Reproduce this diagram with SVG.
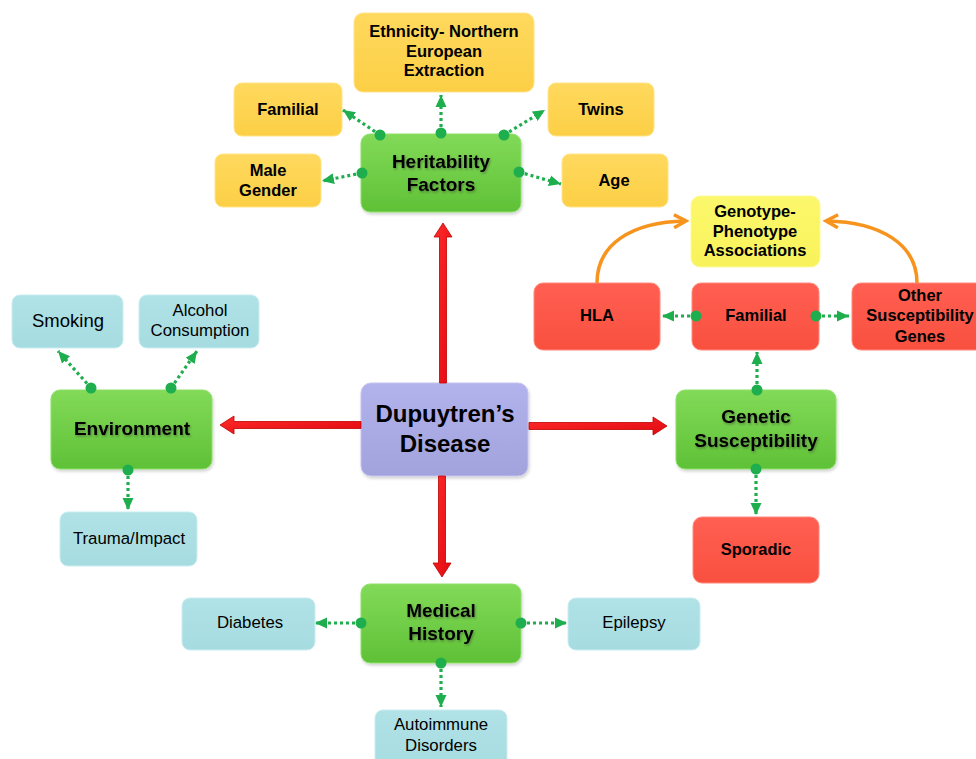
<svg xmlns="http://www.w3.org/2000/svg" width="976" height="759" viewBox="0 0 976 759">
<defs>
<style>
text{font-family:"Liberation Sans",Arial,sans-serif;text-anchor:middle;fill:#000}
.b{font-weight:bold}
.f15{font-size:16.5px}
.f16{font-size:16.8px}
.f18{font-size:18.5px}
.f17{font-size:19px}
.f22{font-size:24px}
.green{fill:url(#gG);stroke:#8de06a;stroke-width:1}
.yel{fill:url(#gY);stroke:#ffe488;stroke-width:1}
.lyel{fill:url(#gLY);stroke:#fbfa9a;stroke-width:1}
.red{fill:url(#gR);stroke:#ff8a7c;stroke-width:1}
.blue{fill:url(#gB);stroke:#c9eef0;stroke-width:1}
.lav{fill:url(#gL);stroke:#c4c4ee;stroke-width:1}
.dot{fill:#1eae4e}
.dl{stroke:#1eae4e;stroke-width:3.2;stroke-dasharray:3 3;fill:none;marker-end:url(#ga)}
.ra{fill:url(#gRA);stroke:#c00000;stroke-width:0.8}
.orng{stroke:#f7941d;stroke-width:3.5;fill:none;marker-end:url(#oa)}
.sh{filter:url(#ts)}
</style>
<linearGradient id="gG" x1="0" y1="0" x2="0" y2="1"><stop offset="0" stop-color="#82da58"/><stop offset="1" stop-color="#5fc136"/></linearGradient>
<linearGradient id="gY" x1="0" y1="0" x2="0" y2="1"><stop offset="0" stop-color="#ffd95e"/><stop offset="1" stop-color="#fccf45"/></linearGradient>
<linearGradient id="gLY" x1="0" y1="0" x2="0" y2="1"><stop offset="0" stop-color="#fcf86c"/><stop offset="1" stop-color="#f8f25a"/></linearGradient>
<linearGradient id="gR" x1="0" y1="0" x2="0" y2="1"><stop offset="0" stop-color="#ff5f52"/><stop offset="1" stop-color="#f9503f"/></linearGradient>
<linearGradient id="gB" x1="0" y1="0" x2="0" y2="1"><stop offset="0" stop-color="#b0e2e6"/><stop offset="1" stop-color="#a6dce1"/></linearGradient>
<linearGradient id="gL" x1="0" y1="0" x2="0" y2="1"><stop offset="0" stop-color="#b2b2ec"/><stop offset="1" stop-color="#a2a2dc"/></linearGradient>
<linearGradient id="gRA" x1="0" y1="0" x2="1" y2="1"><stop offset="0" stop-color="#ff2a2a"/><stop offset="1" stop-color="#e00a10"/></linearGradient>
<filter id="ts" x="-10%" y="-20%" width="120%" height="150%"><feDropShadow dx="1" dy="1.5" stdDeviation="0.8" flood-color="#333" flood-opacity="0.45"/></filter>
<filter id="bs" x="-10%" y="-10%" width="125%" height="130%"><feDropShadow dx="1" dy="2" stdDeviation="1.5" flood-color="#000" flood-opacity="0.18"/></filter>
<marker id="ga" markerUnits="userSpaceOnUse" markerWidth="14" markerHeight="14" viewBox="0 0 14 14" refX="12" refY="7" orient="auto"><path d="M0,1.5 L12,7 L0,12.5 Z" fill="#1eae4e"/></marker>
<marker id="oa" markerUnits="userSpaceOnUse" markerWidth="16" markerHeight="16" viewBox="0 0 16 16" refX="13" refY="8" orient="auto"><path d="M1,1.5 L13,8 L1,14.5" fill="none" stroke="#f7941d" stroke-width="3.5" stroke-linejoin="miter"/></marker>
</defs>
<rect width="976" height="759" fill="#fff"/>

<g id="dupuytren">
<rect class="lav" filter="url(#bs)" x="361" y="383" width="167" height="93" rx="10"/>
<text class="b f22" x="445" y="422">Dupuytren’s</text>
<text class="b f22" x="445" y="452">Disease</text>
</g>

<g id="heritability">
<rect class="green" filter="url(#bs)" x="361" y="134" width="160" height="78" rx="9"/>
<text class="b f17 sh" x="441" y="168">Heritability</text>
<text class="b f17 sh" x="441" y="191">Factors</text>
</g>
<g id="ethnicity">
<rect class="yel" x="354" y="13" width="180" height="79" rx="9"/>
<text class="b f15" x="444" y="37">Ethnicity- Northern</text>
<text class="b f15" x="444" y="57">European</text>
<text class="b f15" x="444" y="76">Extraction</text>
</g>
<g id="familial-h">
<rect class="yel" x="234" y="83" width="108" height="53" rx="8"/>
<text class="b f15" x="288" y="115">Familial</text>
</g>
<g id="twins">
<rect class="yel" x="548" y="83" width="106" height="53" rx="8"/>
<text class="b f15" x="601" y="115">Twins</text>
</g>
<g id="male-gender">
<rect class="yel" x="215" y="154" width="106" height="53" rx="8"/>
<text class="b f15" x="268" y="176">Male</text>
<text class="b f15" x="268" y="196">Gender</text>
</g>
<g id="age">
<rect class="yel" x="562" y="154" width="106" height="53" rx="8"/>
<text class="b f15" x="614" y="186">Age</text>
</g>

<g id="environment">
<rect class="green" filter="url(#bs)" x="51" y="390" width="161" height="79" rx="9"/>
<text class="b f17 sh" x="132" y="435">Environment</text>
</g>
<g id="smoking">
<rect class="blue" x="12" y="295" width="111" height="53" rx="8"/>
<text class="f18" x="68" y="327">Smoking</text>
</g>
<g id="alcohol">
<rect class="blue" x="139" y="295" width="120" height="53" rx="8"/>
<text class="f16" x="200" y="316">Alcohol</text>
<text class="f16" x="200" y="336">Consumption</text>
</g>
<g id="trauma">
<rect class="blue" x="60" y="512" width="137" height="54" rx="8"/>
<text class="f16" x="129" y="544">Trauma/Impact</text>
</g>

<g id="genetic">
<rect class="green" filter="url(#bs)" x="676" y="390" width="160" height="79" rx="9"/>
<text class="b f17 sh" x="756" y="423">Genetic</text>
<text class="b f17 sh" x="756" y="447">Susceptibility</text>
</g>
<g id="genotype">
<rect class="lyel" x="691" y="196" width="129" height="71" rx="9"/>
<text class="b f15" x="755" y="217">Genotype-</text>
<text class="b f15" x="755" y="237">Phenotype</text>
<text class="b f15" x="755" y="256">Associations</text>
</g>
<g id="hla">
<rect class="red" x="534" y="283" width="126" height="67" rx="9"/>
<text class="b f15" x="597" y="321">HLA</text>
</g>
<g id="familial-g">
<rect class="red" x="692" y="283" width="127" height="67" rx="9"/>
<text class="b f15" x="756" y="321">Familial</text>
</g>
<g id="other-genes">
<rect class="red" x="852" y="283" width="134" height="67" rx="9"/>
<text class="b f15" x="920" y="301">Other</text>
<text class="b f15" x="920" y="321">Susceptibility</text>
<text class="b f15" x="920" y="342">Genes</text>
</g>
<g id="sporadic">
<rect class="red" x="693" y="517" width="126" height="66" rx="9"/>
<text class="b f15" x="756" y="555">Sporadic</text>
</g>

<g id="medical">
<rect class="green" filter="url(#bs)" x="361" y="584" width="160" height="79" rx="9"/>
<text class="b f17 sh" x="441" y="617">Medical</text>
<text class="b f17 sh" x="441" y="640">History</text>
</g>
<g id="diabetes">
<rect class="blue" x="182" y="598" width="133" height="52" rx="8"/>
<text class="f16" x="250" y="628">Diabetes</text>
</g>
<g id="epilepsy">
<rect class="blue" x="568" y="598" width="132" height="52" rx="8"/>
<text class="f16" x="634" y="628">Epilepsy</text>
</g>
<g id="autoimmune">
<rect class="blue" x="375" y="710" width="132" height="60" rx="8"/>
<text class="f16" x="441" y="730">Autoimmune</text>
<text class="f16" x="441" y="751">Disorders</text>
</g>

<g id="connectors">
<path class="ra" d="M443,223 L452,237 L446.5,237 L446.5,383 L439.5,383 L439.5,237 L434,237 Z"/>
<path class="ra" d="M220,425 L234,416 L234,421.5 L361,421.5 L361,428.5 L234,428.5 L234,434 Z"/>
<path class="ra" d="M667,426 L653,417 L653,422.5 L529,422.5 L529,429.5 L653,429.5 L653,435 Z"/>
<path class="ra" d="M442,577 L451,563 L445.5,563 L445.5,476 L438.5,476 L438.5,563 L433,563 Z"/>
<path class="orng" d="M597,283 C597,245 630,222 686,221"/>
<path class="orng" d="M917,283 C917,245 882,222 826,221"/>
<path class="dl" d="M380,135 L343,110"/>
<path class="dl" d="M441,133 L441,95"/>
<path class="dl" d="M504,135 L545,110"/>
<path class="dl" d="M362,173 L322,181"/>
<path class="dl" d="M519,172 L561,184"/>
<path class="dl" d="M696,316 L662,316"/>
<path class="dl" d="M816,316 L849,316"/>
<path class="dl" d="M757,390 L757,352"/>
<path class="dl" d="M756,469 L756,515"/>
<path class="dl" d="M91,388 L58,351"/>
<path class="dl" d="M171,388 L197,351"/>
<path class="dl" d="M128,470 L128,510"/>
<path class="dl" d="M361,623 L315,623"/>
<path class="dl" d="M521,623 L567,623"/>
<path class="dl" d="M441,663 L441,707"/>
<circle class="dot" cx="380" cy="135" r="5.5"/>
<circle class="dot" cx="441" cy="133" r="5.5"/>
<circle class="dot" cx="504" cy="135" r="5.5"/>
<circle class="dot" cx="362" cy="173" r="5.5"/>
<circle class="dot" cx="519" cy="172" r="5.5"/>
<circle class="dot" cx="696" cy="316" r="5.5"/>
<circle class="dot" cx="816" cy="316" r="5.5"/>
<circle class="dot" cx="757" cy="390" r="5.5"/>
<circle class="dot" cx="756" cy="469" r="5.5"/>
<circle class="dot" cx="91" cy="388" r="5.5"/>
<circle class="dot" cx="171" cy="388" r="5.5"/>
<circle class="dot" cx="128" cy="470" r="5.5"/>
<circle class="dot" cx="361" cy="623" r="5.5"/>
<circle class="dot" cx="521" cy="623" r="5.5"/>
<circle class="dot" cx="441" cy="663" r="5.5"/>
</g>
</svg>
